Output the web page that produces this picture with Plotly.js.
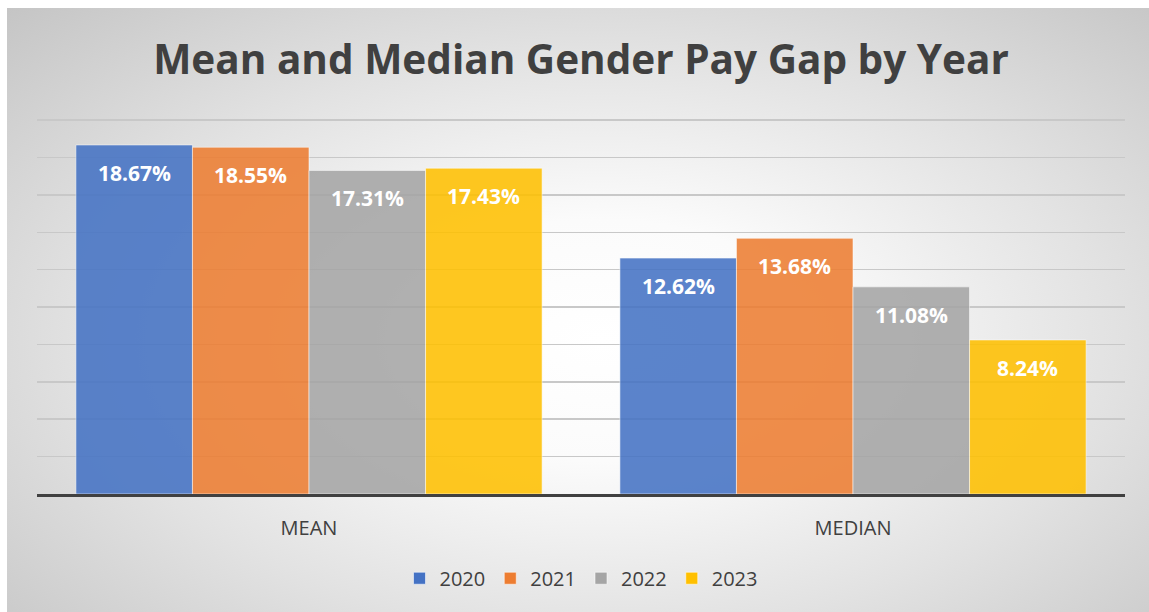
<!DOCTYPE html>
<html>
<head>
<meta charset="utf-8">
<script src="https://cdn.plot.ly/plotly-3.0.1.min.js"></script>
<style>
  html, body { margin: 0; padding: 0; background: #ffffff; }
  #wrap { position: relative; width: 1149px; height: 612px; overflow: hidden; }
  #bg { position: absolute; left: 7px; top: 8px; width: 1142px; height: 604px;
        background: radial-gradient(ellipse 75% 80% at 52% 55%, #ffffff 0%, #fbfbfb 25%, #e2e2e2 60%, #c3c3c3 100%); }
  #chart { position: absolute; left: 0; top: 0; width: 1149px; height: 612px; }
</style>
</head>
<body>
<div id="wrap">
  <div id="bg"></div>
  <div id="chart"></div>
</div>
<script>
const categories = ["MEAN", "MEDIAN"];
const years = ["2020", "2021", "2022", "2023"];
const values2020 = [18.67, 12.62];
const values2021 = [18.55, 13.68];
const values2022 = [17.31, 11.08];
const values2023 = [17.43, 8.24];
const seriesValues = [values2020, values2021, values2022, values2023];
const colors = ["#4472C4", "#ED7D31", "#A5A5A5", "#FFC000"];

const bargap = 0.143;
const traces = years.map((yr, i) => ({
  type: "bar",
  name: yr,
  x: categories,
  y: seriesValues[i],
  marker: { color: colors[i], opacity: 0.87, line: { color: "rgba(255,255,255,0.55)", width: 1 } },
  hoverinfo: "none"
}));

const plotLeft = 37, plotRight = 1125;
const catWidth = (plotRight - plotLeft) / categories.length;
const barWidth = catWidth * (1 - bargap) / years.length;

const annotations = [];
years.forEach((yr, i) => {
  categories.forEach((c, j) => {
    annotations.push({
      x: c, y: seriesValues[i][j], xref: "x", yref: "y",
      xshift: (i - (years.length - 1) / 2) * barWidth,
      yshift: -28,
      text: seriesValues[i][j].toFixed(2) + "%",
      showarrow: false,
      xanchor: "center", yanchor: "middle",
      font: { family: "Open Sans", size: 21, color: "#ffffff", weight: "bold" }
    });
  });
});

const layout = {
  width: 1149, height: 612,
  paper_bgcolor: "rgba(0,0,0,0)",
  plot_bgcolor: "rgba(0,0,0,0)",
  margin: { l: 37, r: 24, t: 119, b: 118 },
  barmode: "group",
  bargap: bargap,
  bargroupgap: 0,
  title: {
    text: "<b>Mean and Median Gender Pay Gap by Year</b>",
    x: 0.5, xanchor: "center", xref: "paper",
    y: 1 - 60 / 612, yanchor: "middle", yref: "container",
    font: { family: "Open Sans", size: 40.5, color: "#404040" }
  },
  xaxis: {
    type: "category",
    showline: true, linecolor: "#404040", linewidth: 3,
    showgrid: false, ticks: "",
    ticklabelstandoff: 14,
    tickfont: { family: "Open Sans", size: 20, color: "#404040" }
  },
  yaxis: {
    range: [0, 20.06], tick0: 0, dtick: 2,
    showticklabels: false, ticks: "",
    showgrid: true, gridcolor: "#c8c8c8", gridwidth: 1.5,
    zeroline: false, showline: false, fixedrange: true
  },
  legend: {
    orientation: "h",
    x: 0.5, xanchor: "center",
    y: -0.2246, yanchor: "middle",
    font: { family: "Open Sans", size: 20, color: "#404040" },
    bgcolor: "rgba(0,0,0,0)",
    traceorder: "normal",
    itemwidth: 30
  },
  showlegend: true,
  annotations: annotations
};

Plotly.newPlot("chart", traces, layout, { displayModeBar: false, staticPlot: true });
</script>
</body>
</html>
